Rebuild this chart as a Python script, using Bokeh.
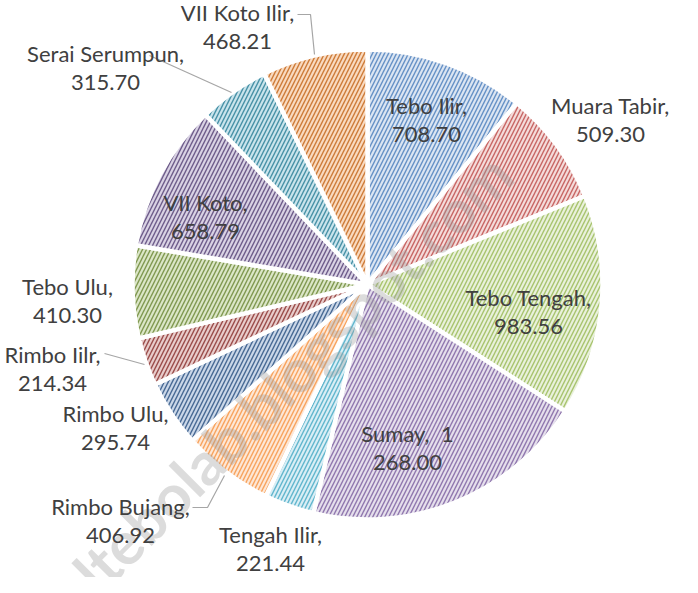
import math
from bokeh.plotting import figure
from bokeh.models import Range1d, ColumnDataSource
from bokeh.core.properties import value
from bokeh.embed import file_html
from bokeh.resources import INLINE

# ---- data ----
districts = ["Tebo Ilir", "Muara Tabir", "Tebo Tengah", "Sumay", "Tengah Ilir",
             "Rimbo Bujang", "Rimbo Ulu", "Rimbo Iilr", "Tebo Ulu", "VII Koto",
             "Serai Serumpun", "VII Koto Ilir"]
values = [708.70, 509.30, 983.56, 1268.00, 221.44, 406.92, 295.74, 214.34,
          410.30, 658.79, 315.70, 468.21]
label_texts = ["Tebo Ilir,\n708.70", "Muara Tabir,\n509.30", "Tebo Tengah,\n983.56",
               "Sumay,\u00a0 1\n268.00", "Tengah Ilir,\n221.44", "Rimbo Bujang,\n406.92",
               "Rimbo Ulu,\n295.74", "Rimbo Iilr,\n214.34", "Tebo Ulu,\n410.30",
               "VII Koto,\n658.79", "Serai Serumpun,\n315.70", "VII Koto Ilir,\n468.21"]

# ---- styles ----
hatch_colors = ["#4f81bd", "#c0504d", "#9bbb59", "#8064a2", "#4bacc6", "#f79646",
                "#2f5584", "#8c3533", "#6f8a3a", "#5b4779", "#2f8199", "#c56a1e"]
fill_colors = ["#dbe5f2", "#f4dbda", "#e9f1db", "#e5dfec", "#d9eef5", "#fde7d6",
               "#cad7e8", "#e8cccb", "#dbe6c7", "#d9d2e4", "#c9e4ec", "#f9dac0"]

W, H = 682, 577
def Y(y):
    return 593 - y

cx, cy, R = 375, Y(292), 235

total = sum(values)
starts, ends = [], []
acc = 0.0
for v in values:
    a0 = math.pi / 2 - 2 * math.pi * (acc + v) / total
    a1 = math.pi / 2 - 2 * math.pi * acc / total
    starts.append(a0)
    ends.append(a1)
    acc += v

src = ColumnDataSource(dict(start=starts, end=ends, fill=fill_colors, hatch=hatch_colors))

p = figure(width=W, height=H, output_backend="svg", toolbar_location=None,
           x_range=Range1d(8, 8 + W), y_range=Range1d(Y(8 + H), Y(8)),
           min_border=0, outline_line_color=None)
p.axis.visible = False
p.grid.visible = False
p.background_fill_color = "white"

p.wedge(x=cx, y=cy, radius=R, start_angle="start", end_angle="end", source=src,
        fill_color="fill", hatch_pattern="/", hatch_color="hatch", hatch_scale=8,
        hatch_weight=1.4, hatch_alpha=0.85, line_color="white", line_width=4.5)

# watermark
p.text(x=[300], y=[Y(380)], text=["ltebolab.blogspot.com"], angle=math.radians(45),
       text_align="center", text_baseline="middle", text_font=value("Lato"),
       text_font_style="bold", text_font_size="60px", text_color="#9a9a9a", text_alpha=0.35)

# leader lines
lx = [[305, 318, 322], [157, 239], [200, 215, 232], [112, 152]]
ly = [[22, 22, 62], [63, 100], [515, 515, 483], [361, 372]]
p.multi_line(xs=lx, ys=[[Y(v) for v in l] for l in ly], line_color="#a6a6a6", line_width=1.2)

# label anchors (image coords, centre of the two-line block)
lab_x = [434, 618, 536, 415, 278, 128, 123, 60, 75, 213, 113, 245]
lab_y = [127, 127, 319, 455, 556, 528, 435, 376, 308, 224, 75, 34]
p.text(x=lab_x, y=[Y(v) for v in lab_y], text=label_texts, text_align="center",
       text_baseline="middle", text_font=value("Lato"), text_font_size="22px",
       text_color="#404040", text_line_height=1.02)

open("out.html", "w").write(file_html(p, INLINE))
